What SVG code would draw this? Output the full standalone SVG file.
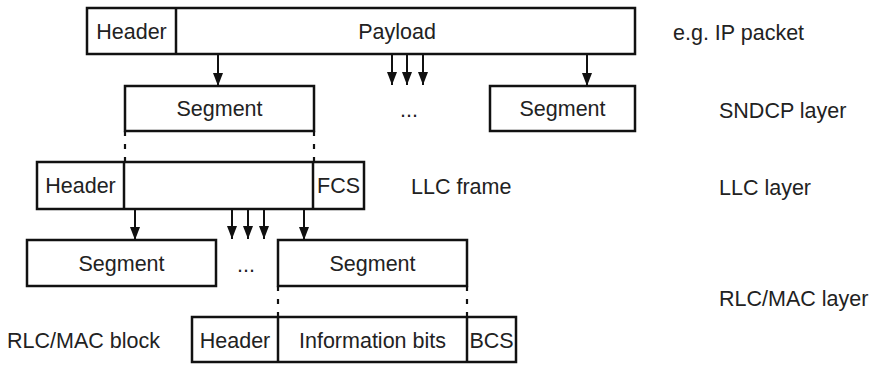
<svg xmlns="http://www.w3.org/2000/svg" width="874" height="365" viewBox="0 0 874 365">
<style>
  .box { fill: #fff; stroke: #111; stroke-width: 2.5; }
  .div { stroke: #111; stroke-width: 2.5; }
  .t { font-family: "Liberation Sans", Arial, sans-serif; font-size: 21.5px; fill: #222; }
  .m { text-anchor: middle; }
  .arr { stroke: #111; stroke-width: 2; fill: none; marker-end: url(#ah); }
  .dash { stroke: #111; stroke-width: 2.2; stroke-dasharray: 5 8; fill: none; }
</style>
<defs>
  <marker id="ah" markerUnits="userSpaceOnUse" viewBox="0 0 13 10" refX="13" refY="5" markerWidth="13" markerHeight="10" orient="auto">
    <path d="M0,0 L13,5 L0,10 z" fill="#111"/>
  </marker>
</defs>
<rect width="874" height="365" fill="#fff"/>

<g id="ip-packet">
  <rect class="box" x="87" y="8" width="548" height="46"/>
  <line class="div" x1="176" y1="8" x2="176" y2="54"/>
  <text class="t m" x="131.5" y="39">Header</text>
  <text class="t m" x="397" y="39">Payload</text>
</g>
<g id="sndcp-seg1">
  <rect class="box" x="125" y="86" width="189" height="45"/>
  <text class="t m" x="219.5" y="116">Segment</text>
</g>
<g id="sndcp-seg2">
  <rect class="box" x="490" y="86" width="145" height="45"/>
  <text class="t m" x="562.5" y="116">Segment</text>
</g>
<g id="llc-frame">
  <rect class="box" x="37" y="162" width="327" height="47"/>
  <line class="div" x1="124" y1="162" x2="124" y2="209"/>
  <line class="div" x1="313" y1="162" x2="313" y2="209"/>
  <text class="t m" x="80.5" y="193">Header</text>
  <text class="t m" x="338.5" y="193">FCS</text>
</g>
<g id="rlc-seg1">
  <rect class="box" x="27" y="240" width="189" height="46"/>
  <text class="t m" x="121.5" y="271">Segment</text>
</g>
<g id="rlc-seg2">
  <rect class="box" x="278" y="240" width="189" height="46"/>
  <text class="t m" x="372.5" y="271">Segment</text>
</g>
<g id="rlc-block">
  <rect class="box" x="192" y="317" width="324" height="45"/>
  <line class="div" x1="278" y1="317" x2="278" y2="362"/>
  <line class="div" x1="467" y1="317" x2="467" y2="362"/>
  <text class="t m" x="235" y="348">Header</text>
  <text class="t m" x="372.5" y="348">Information bits</text>
  <text class="t m" x="491.5" y="348">BCS</text>
</g>

<g id="labels">
  <text class="t" x="673" y="40">e.g. IP packet</text>
  <text class="t" x="719" y="118">SNDCP layer</text>
  <text class="t" x="719" y="195">LLC layer</text>
  <text class="t" x="719" y="306">RLC/MAC layer</text>
  <text class="t" x="411" y="194">LLC frame</text>
  <text class="t" x="7" y="348">RLC/MAC block</text>
  <text class="t m" x="409" y="117">...</text>
  <text class="t m" x="246" y="272">...</text>
</g>

<g id="connectors">
  <line class="arr" x1="218" y1="54" x2="218" y2="86"/>
  <line class="arr" x1="392" y1="54" x2="392" y2="85"/>
  <line class="arr" x1="407" y1="54" x2="407" y2="85"/>
  <line class="arr" x1="423" y1="54" x2="423" y2="85"/>
  <line class="arr" x1="587" y1="54" x2="587" y2="86"/>
  <line class="dash" x1="125" y1="131" x2="125" y2="162"/>
  <line class="dash" x1="314" y1="131" x2="314" y2="162"/>
  <line class="arr" x1="135" y1="209" x2="135" y2="240"/>
  <line class="arr" x1="232" y1="209" x2="232" y2="239"/>
  <line class="arr" x1="248" y1="209" x2="248" y2="239"/>
  <line class="arr" x1="264" y1="209" x2="264" y2="239"/>
  <line class="arr" x1="304" y1="209" x2="304" y2="240"/>
  <line class="dash" x1="278" y1="286" x2="278" y2="317"/>
  <line class="dash" x1="467" y1="286" x2="467" y2="317"/>
</g>
</svg>
